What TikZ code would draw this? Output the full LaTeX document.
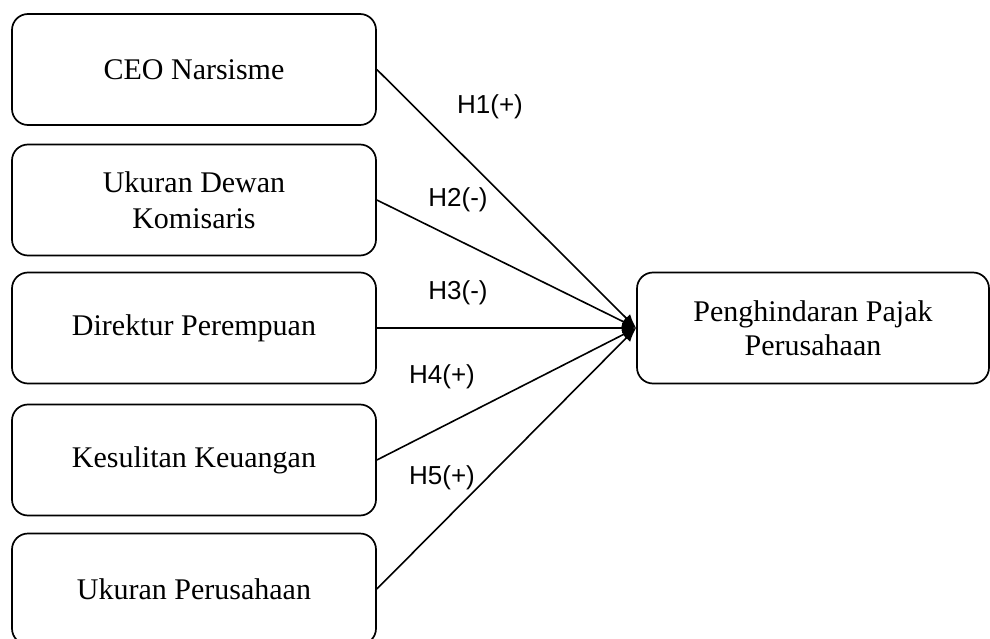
\documentclass[tikz,border=0pt]{standalone}
\usepackage{fontspec}
\setmainfont{Liberation Serif}
\newfontfamily\labelfont{Liberation Sans}
\usetikzlibrary{arrows.meta}
\tikzset{
  varbox/.style={draw=black, line width=1.7pt, rounded corners=16pt, align=center,
    font=\fontsize{30}{36}\selectfont, inner sep=0pt},
  leftbox/.style={varbox, minimum width=364pt, minimum height=111pt},
  link/.style={draw=black, line width=1.6pt, -{Latex[length=14pt,width=11pt]}},
  hyp/.style={font=\labelfont\fontsize{26}{30}\selectfont, inner sep=0pt}
}
\begin{document}
\begin{tikzpicture}[x=1pt,y=-1pt]
\useasboundingbox (0,0) rectangle (990,639);
\clip (0,0) rectangle (990,639);
\node[leftbox] (b1) at (194,69.5) {CEO Narsisme};
\node[leftbox] (b2) at (194,200) {Ukuran Dewan\\Komisaris};
\node[leftbox] (b3) at (194,328) {Direktur Perempuan};
\node[leftbox] (b4) at (194,460) {Kesulitan Keuangan};
\node[leftbox] (b5) at (194,589) {Ukuran Perusahaan};
\node[varbox, minimum width=352pt, minimum height=111pt, font=\fontsize{30}{34}\selectfont] (r) at (813,328) {Penghindaran Pajak\\Perusahaan};
\draw[link] (b1.east) -- (r.west);
\draw[link] (b2.east) -- (r.west);
\draw[link] (b3.east) -- (r.west);
\draw[link] (b4.east) -- (r.west);
\draw[link] (b5.east) -- (r.west);
\node[hyp] (h1) at (490,107) {H1(+)};
\node[hyp] (h2) at (458,200) {H2(-)};
\node[hyp] (h3) at (458,293) {H3(-)};
\node[hyp] (h4) at (442,377) {H4(+)};
\node[hyp] (h5) at (442,478) {H5(+)};
\end{tikzpicture}
\end{document}
